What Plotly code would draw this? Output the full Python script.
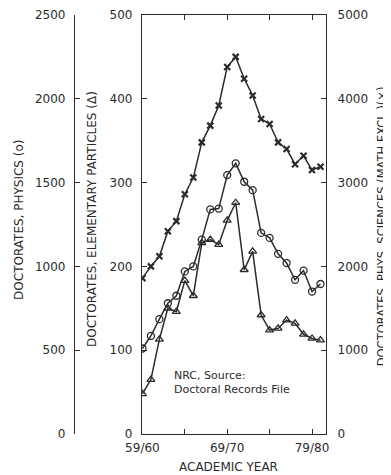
import plotly.graph_objects as go

# academic years on the x axis
years = ["59/60", "60/61", "61/62", "62/63", "63/64", "64/65", "65/66", "66/67",
         "67/68", "68/69", "69/70", "70/71", "71/72", "72/73", "73/74", "74/75",
         "75/76", "76/77", "77/78", "78/79", "79/80", "80/81"]

# doctorates, physical sciences excl. math (x) - right axis
phys_sciences = [1860, 2000, 2120, 2420, 2540, 2860, 3060, 3480, 3680, 3920, 4380,
                 4500, 4240, 4040, 3760, 3700, 3480, 3400, 3220, 3320, 3150, 3190]

# doctorates, physics (o) - outer left axis
physics = [510, 585, 685, 780, 825, 970, 1000, 1160, 1340, 1345, 1545,
           1615, 1505, 1455, 1200, 1170, 1075, 1020, 920, 975, 850, 895]

# doctorates, elementary particles (triangle) - inner left axis
elem_particles = [48, 65, 113, 150, 146, 183, 165, 228, 232, 226, 255,
                  276, 196, 218, 142, 124, 126, 136, 132, 119, 114, 112]

x_ticks = ["59/60", "64/65", "69/70", "74/75", "79/80"]
x_ticktext = ["59/60", "", "69/70", "", "79/80"]

INK = "#2b2b2b"
FONT = "DejaVu Sans"

fig = go.Figure()

fig.add_trace(go.Scatter(
    x=years, y=phys_sciences, yaxis="y2", mode="lines+markers",
    line=dict(color=INK, width=1.5),
    marker=dict(symbol="x-thin", size=6, line=dict(color=INK, width=2.2)),
    name="phys sciences"))

fig.add_trace(go.Scatter(
    x=years, y=physics, yaxis="y3", mode="lines+markers",
    line=dict(color=INK, width=1.5),
    marker=dict(symbol="circle-open", size=7, line=dict(color=INK, width=1.3)),
    name="physics"))

fig.add_trace(go.Scatter(
    x=years, y=elem_particles, yaxis="y", mode="lines+markers",
    line=dict(color=INK, width=1.5),
    marker=dict(symbol="triangle-up-open", size=7, line=dict(color=INK, width=1.3)),
    name="elementary particles"))

axis_common = dict(showline=True, linecolor=INK, linewidth=1.3, ticks="inside",
                   ticklen=5, tickcolor=INK, tickwidth=1.3, showgrid=False,
                   zeroline=False, automargin=False,
                   tickfont=dict(family=FONT, size=12, color=INK))

# page body adds an 8px offset, so margins are shifted by that
fig.update_layout(
    width=391, height=475,
    margin=dict(l=2, r=18, t=7, b=49, autoexpand=False),
    plot_bgcolor="white", paper_bgcolor="white",
    showlegend=False,
    font=dict(family=FONT, color=INK),
    xaxis=dict(domain=[0.3558, 0.8518], type="category",
               range=[-0.05, 21.65], tickvals=x_ticks, ticktext=x_ticktext,
               mirror="ticks", ticklabelstandoff=2, **axis_common),
    yaxis=dict(range=[0, 500], tickvals=[0, 100, 200, 300, 400, 500],
               ticklabelstandoff=6, **axis_common),
    yaxis2=dict(range=[0, 5000], overlaying="y", side="right", anchor="x",
                tickvals=[0, 1000, 2000, 3000, 4000, 5000],
                ticklabelstandoff=8, **axis_common),
    yaxis3=dict(range=[0, 2500], overlaying="y", side="left", anchor="free",
                position=0.1725, tickvals=[0, 500, 1000, 1500, 2000, 2500],
                ticklabelstandoff=6, **axis_common),
)

title_font = dict(family=FONT, size=12, color=INK)
fig.add_annotation(text="DOCTORATES, PHYSICS (o)", textangle=-90,
                   xref="paper", yref="paper", x=0.0243, y=0.511,
                   xanchor="center", yanchor="middle",
                   showarrow=False, font=title_font)
fig.add_annotation(text="DOCTORATES, ELEMENTARY PARTICLES (Δ)", textangle=-90,
                   xref="paper", yref="paper", x=0.221, y=0.513,
                   xanchor="center", yanchor="middle",
                   showarrow=False, font=title_font)
fig.add_annotation(text="DOCTORATES, PHYS. SCIENCES (MATH EXCL.)(×)", textangle=-90,
                   xref="paper", yref="paper", x=1.003, y=0.496,
                   xanchor="center", yanchor="middle",
                   showarrow=False, font=dict(family=FONT, size=11.5, color=INK))
fig.add_annotation(text="ACADEMIC YEAR", xref="paper", yref="paper",
                   x=0.590, y=-0.079, xanchor="center", yanchor="middle",
                   showarrow=False, font=dict(family=FONT, size=12, color=INK))
fig.add_annotation(text="NRC, Source:<br>Doctoral Records File", align="left",
                   xref="paper", yref="paper", x=0.4367, y=0.124,
                   xanchor="left", yanchor="middle", showarrow=False,
                   font=dict(family=FONT, size=11, color=INK))

fig.write_html("out.html")
